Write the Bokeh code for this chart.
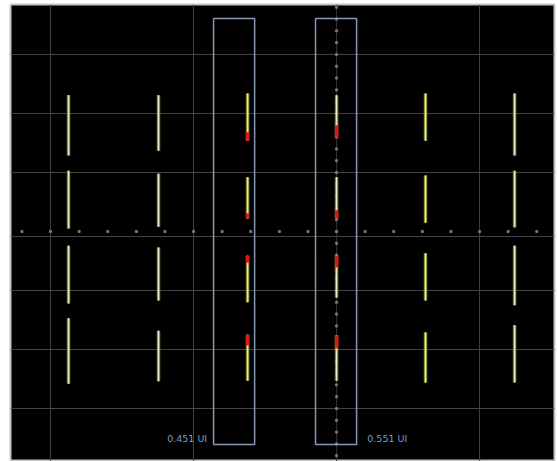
from bokeh.plotting import figure
from bokeh.models import Span, Label, ColumnDataSource
from bokeh.embed import file_html
from bokeh.resources import INLINE
import numpy as np

# Horizontal positions of the sampled bit columns (divisions from centre)
column_x = [-1.874, -1.245, -0.622, 0.0, 0.622, 1.245]

# Vertical extent (top, bottom) of the four level traces in each column, in divisions
trace_top = [
    [2.31, 1.03, -0.24, -1.47],
    [2.31, 0.98, -0.27, -1.68],
    [2.34, 0.92, -0.41, -1.75],
    [2.31, 0.92, -0.41, -1.76],
    [2.34, 0.95, -0.37, -1.71],
    [2.34, 1.03, -0.24, -1.59],
]
trace_bottom = [
    [1.29, 0.05, -1.22, -2.58],
    [1.37, 0.08, -1.17, -2.54],
    [1.54, 0.22, -1.20, -2.53],
    [1.59, 0.22, -1.12, -2.53],
    [1.54, 0.15, -1.17, -2.56],
    [1.29, 0.07, -1.25, -2.56],
]

# Failing (red) portions of the traces: column index, y0, y1
fail_col = [2, 2, 2, 2, 3, 3, 3, 3]
fail_y0 = [1.68, 0.31, -0.41, -1.75, 1.80, 0.36, -0.41, -1.76]
fail_y1 = [1.54, 0.22, -0.53, -1.93, 1.59, 0.22, -0.61, -1.98]

# Measurement windows (left, right) and their labels
window_left = [-0.860, -0.147]
window_right = [-0.573, 0.140]
window_top = 3.61
window_bottom = -3.61
window_text = ["0.451 UI", "0.551 UI"]

# Graticule
grid_x = [-2, -1, 1]
grid_y = [-3, -2, -1, 1, 2, 3]

p = figure(width=557, height=461, output_backend="svg", toolbar_location=None,
           x_range=(-2.28, 1.524), y_range=(-3.898, 3.847),
           min_border_left=10, min_border_right=3, min_border_top=4, min_border_bottom=0)
p.axis.visible = False
p.grid.visible = False
p.background_fill_color = "black"
p.border_fill_color = "white"
p.outline_line_color = "#c4c4c4"
p.outline_line_width = 2

grid_color = "#444444"
for gx in grid_x:
    p.add_layout(Span(location=gx, dimension="height", line_color=grid_color,
                      line_width=1, level="underlay"))
for gy in grid_y:
    p.add_layout(Span(location=gy, dimension="width", line_color=grid_color,
                      line_width=1, level="underlay"))
p.add_layout(Span(location=0, dimension="height", line_color="#333333",
                  line_width=1, level="underlay"))
p.add_layout(Span(location=-0.085, dimension="width", line_color=grid_color,
                  line_width=1, level="underlay"))

# Minor tick dots along the centre axes
hx = np.round(np.arange(-2.2, 1.5, 0.2), 2)
p.scatter(hx, np.zeros_like(hx), marker="square", size=2, color="#777777")
vy = np.round(np.arange(-3.8, 3.9, 0.2), 2)
p.scatter(np.zeros_like(vy), vy, marker="square", size=2, color="#777777")

# Level traces: soft olive glow with a pale core
xs, ys = [], []
for cx, tops, bots in zip(column_x, trace_top, trace_bottom):
    for t, b in zip(tops, bots):
        xs.append([cx, cx])
        ys.append([t, b])
src = ColumnDataSource(dict(xs=xs, ys=ys))
p.multi_line("xs", "ys", source=src, line_color="#8c9230", line_width=4, line_alpha=0.45)
p.multi_line("xs", "ys", source=src, line_color="#b4b84e", line_width=2.4)
p.multi_line("xs", "ys", source=src, line_color="#ecebd4", line_width=1)

fx = [column_x[c] for c in fail_col]
p.segment(fx, fail_y0, fx, fail_y1, line_color="#d81c1c", line_width=3.5)

# Measurement windows
p.quad(left=window_left, right=window_right, top=window_top, bottom=window_bottom,
       fill_alpha=0, line_color="#8797b4", line_width=1.5)

p.add_layout(Label(x=window_left[0] - 0.045, y=-3.51, text=window_text[0], text_align="right",
                   text_baseline="middle", text_font="DejaVu Sans", text_font_size="9.5px",
                   text_color="#7c9ccc"))
p.add_layout(Label(x=window_right[1] + 0.075, y=-3.51, text=window_text[1], text_align="left",
                   text_baseline="middle", text_font="DejaVu Sans", text_font_size="9.5px",
                   text_color="#7c9ccc"))

open("out.html", "w").write(file_html(p, INLINE))
